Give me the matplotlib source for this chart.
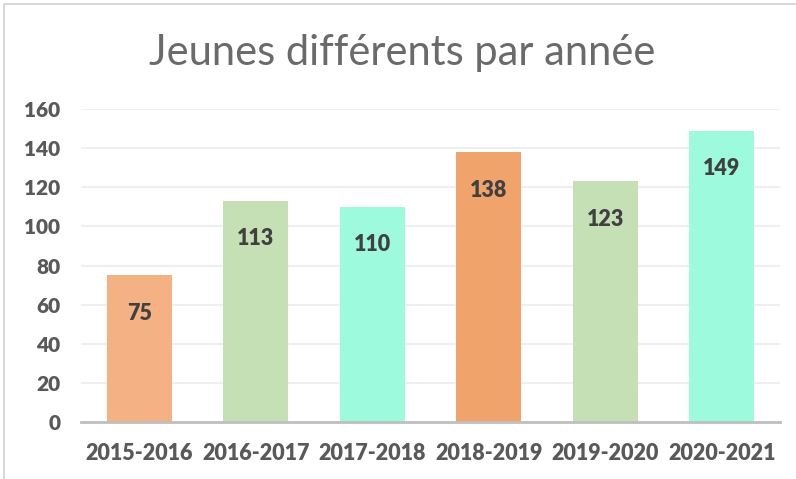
import matplotlib.pyplot as plt
from matplotlib.patches import Rectangle

# Data
years = ['2015-2016', '2016-2017', '2017-2018', '2018-2019', '2019-2020', '2020-2021']
counts = [75, 113, 110, 138, 123, 149]
colors = ['#F4B183', '#C5E0B4', '#9EFADC', '#F0A46C', '#C5E0B4', '#9EFADC']

plt.rcParams['font.family'] = ['Lato', 'DejaVu Sans']

fig = plt.figure(figsize=(7.96, 4.79), dpi=100)
ax = fig.add_axes([81 / 796, 57 / 479, 699 / 796, 313 / 479])

bars = ax.bar(years, counts, width=0.56, color=colors, zorder=2)
for b, v in zip(bars, counts):
    ax.annotate(str(v), (b.get_x() + b.get_width() / 2, v), xytext=(0, -38),
                textcoords='offset pixels', ha='center', va='center',
                fontsize=15.5, fontweight='heavy', color='#404040', zorder=3)

ax.set_ylim(0, 160)
ax.set_xlim(-0.5, len(years) - 0.5)
ax.set_yticks(range(0, 161, 20))
ax.yaxis.grid(True, color='#EFEFEF', linewidth=1.5, zorder=0)
ax.tick_params(length=0)
ax.tick_params(axis='y', pad=15, labelsize=15, labelcolor='#595959')
ax.tick_params(axis='x', pad=15, labelsize=15.5, labelcolor='#595959')
for lab in ax.get_xticklabels() + ax.get_yticklabels():
    lab.set_fontweight('heavy')
for s in ['top', 'right', 'left']:
    ax.spines[s].set_visible(False)
ax.spines['bottom'].set_color('#BFBFBF')
ax.spines['bottom'].set_linewidth(2)

fig.text(402 / 796, 1 - 53 / 479, 'Jeunes différents par année', ha='center', va='center',
         fontsize=30, fontweight='normal', color='#6A6A6A')

fig.patches.append(Rectangle((4 / 796, -0.1), 1.2, 1 - 4 / 479 + 0.1, transform=fig.transFigure,
                             fill=False, edgecolor='#D9D9D9', linewidth=1.5))

fig.savefig('out.png', dpi=100)
